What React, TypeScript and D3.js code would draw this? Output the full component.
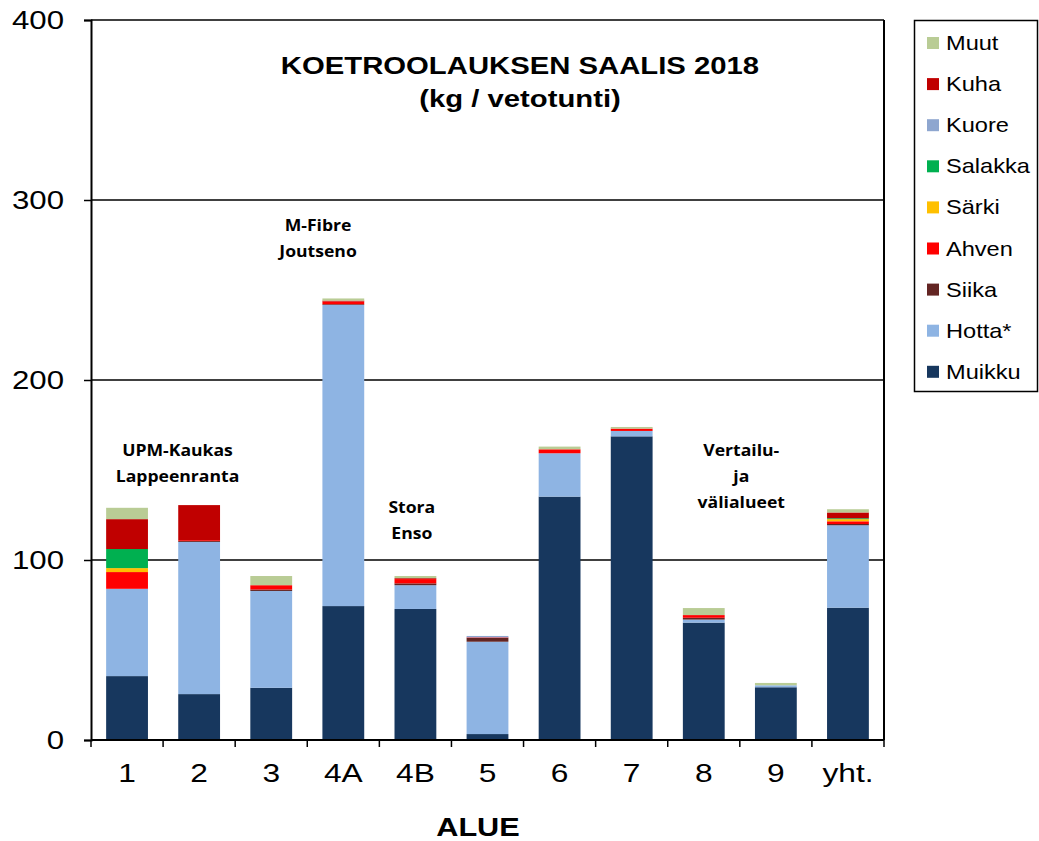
import React from "react";
import * as d3 from "d3";

// alueet
const categories = ["1", "2", "3", "4A", "4B", "5", "6", "7", "8", "9", "yht."];

// lajit alhaalta ylös pinottuna
const species = ["Muikku", "Hotta*", "Siika", "Ahven", "Särki", "Salakka", "Kuore", "Kuha", "Muut"];
const speciesColors = ["#17375E", "#8EB4E3", "#632523", "#FF0000", "#FFC000", "#00B050", "#8EA6CF", "#C00000", "#B9CC95"];

// kg / vetotunti
const muikku = [35.5, 25.5, 29.0, 74.4, 72.8, 3.3, 135.2, 168.7, 65.2, 29.3, 73.5];
const hotta = [48.5, 84.5, 53.8, 167.3, 13.2, 51.3, 24.1, 3.0, 1.7, 1.1, 45.8];
const siika = [0, 0.5, 0.8, 0.4, 1.0, 2.1, 0, 0, 1.0, 0, 0.7];
const ahven = [9.3, 0.5, 2.4, 1.5, 2.4, 0.3, 2.2, 1.3, 1.5, 0, 1.5];
const sarki = [2.2, 0, 0, 0, 0, 0, 0, 0, 0, 0, 1.2];
const salakka = [10.6, 0, 0, 0, 0, 0, 0, 0, 0, 0, 0.5];
const kuore = [0, 0, 0, 0, 0, 0.8, 0, 0, 0, 0, 0];
const kuha = [16.6, 19.5, 0, 0.5, 0.5, 0, 0, 0, 0, 0, 3.2];
const muut = [6.3, 0, 5.1, 1.2, 1.2, 0, 1.5, 0.9, 3.9, 1.3, 1.8];

const yTicks = [0, 100, 200, 300, 400];

const title = ["KOETROOLAUKSEN SAALIS 2018", "(kg / vetotunti)"];

// tekstit alueiden yläpuolella (shift = siirto kaistan leveyksinä)
const notes = [
    { at: "1", shift: 0.7, lines: ["UPM-Kaukas", "Lappeenranta"], value: 158 },
    { at: "4A", shift: -0.35, lines: ["M-Fibre", "Joutseno"], value: 283 },
    { at: "4B", shift: -0.05, lines: ["Stora", "Enso"], value: 126 },
    { at: "8", shift: 0.52, lines: ["Vertailu-", "ja", "välialueet"], value: 158 },
];

// Excel-kuvan tekstit ovat hieman leveämpiä
const stretch = (sel: any, sx: number) => {
    sel.each(function (this: SVGTextElement) {
        const x = +(this.getAttribute("x") || 0);
        d3.select(this).attr("transform", `translate(${x},0) scale(${sx},1) translate(${-x},0)`);
    });
};

const App = () => {
    const svgRef = React.useRef<SVGSVGElement>(null);
    const width = 1039;
    const height = 841;
    const margin = { left: 91, right: 155, top: 20, bottom: 101 };

    React.useEffect(() => {
        const series = [muikku, hotta, siika, ahven, sarki, salakka, kuore, kuha, muut];
        const table = categories.map((c, i) => {
            const row: any = { alue: c };
            species.forEach((s, j) => (row[s] = series[j][i]));
            return row;
        });
        const stacked = d3.stack().keys(species)(table);

        const xScale = d3
            .scaleBand()
            .domain(categories)
            .range([margin.left, width - margin.right])
            .paddingInner(0.42)
            .paddingOuter(0.21);
        const yScale = d3
            .scaleLinear()
            .domain([0, 400])
            .range([height - margin.bottom, margin.top]);

        const svg = d3.select(svgRef.current);
        svg.selectAll("*").remove();

        const font = "Arial, 'Liberation Sans', sans-serif";

        // vaakaviivat
        svg.append("g")
            .selectAll("line")
            .data(yTicks.slice(1))
            .enter()
            .append("line")
            .attr("x1", margin.left)
            .attr("x2", width - margin.right)
            .attr("y1", (d) => yScale(d))
            .attr("y2", (d) => yScale(d))
            .attr("stroke", "#000")
            .attr("stroke-width", 1.5);

        // pylväät
        svg.append("g")
            .selectAll("g")
            .data(stacked)
            .enter()
            .append("g")
            .attr("fill", (d, i) => speciesColors[i])
            .selectAll("rect")
            .data((d) => d)
            .enter()
            .append("rect")
            .attr("x", (d: any) => xScale(d.data.alue)!)
            .attr("width", xScale.bandwidth())
            .attr("y", (d) => yScale(d[1]))
            .attr("height", (d) => Math.max(0, yScale(d[0]) - yScale(d[1])));

        // akselit
        const yAxis = d3.axisLeft(yScale).tickValues(yTicks).tickSize(7).tickPadding(20);
        const yAxisGroup = svg.append("g").attr("transform", `translate(${margin.left},0)`).call(yAxis);
        yAxisGroup.select(".domain").attr("stroke-width", 2);
        yAxisGroup.selectAll("line").attr("stroke-width", 1.5);
        yAxisGroup.selectAll("text").attr("font-size", 26).attr("font-family", font).attr("fill", "#000");
        stretch(yAxisGroup.selectAll("text"), 1.2);

        // oikea reuna
        svg.append("line")
            .attr("x1", width - margin.right)
            .attr("x2", width - margin.right)
            .attr("y1", margin.top)
            .attr("y2", height - margin.bottom)
            .attr("stroke", "#000")
            .attr("stroke-width", 2);

        const xAxis = d3.axisBottom(xScale).tickSize(0).tickPadding(24);
        const xAxisGroup = svg
            .append("g")
            .attr("transform", `translate(0,${height - margin.bottom})`)
            .call(xAxis);
        xAxisGroup.select(".domain").attr("stroke-width", 2).attr("d", `M${margin.left},0H${width - margin.right}`);
        xAxisGroup.selectAll("text").attr("font-size", 26).attr("font-family", font).attr("fill", "#000");
        stretch(xAxisGroup.selectAll("text"), 1.22);
        // väliviivat alueiden välissä
        const step = xScale.step();
        xAxisGroup
            .selectAll(".sep")
            .data(d3.range(categories.length + 1))
            .enter()
            .append("line")
            .attr("x1", (i) => margin.left + i * step)
            .attr("x2", (i) => margin.left + i * step)
            .attr("y1", 0)
            .attr("y2", 7)
            .attr("stroke", "#000")
            .attr("stroke-width", 1.5);

        const alue = svg.append("text")
            .attr("x", 478)
            .attr("y", 836)
            .attr("text-anchor", "middle")
            .attr("font-family", font)
            .attr("font-weight", "bold")
            .attr("font-size", 26)
            .text("ALUE");
        stretch(alue, 1.18);

        // otsikko
        const titleTexts = svg.append("g")
            .selectAll("text")
            .data(title)
            .enter()
            .append("text")
            .attr("x", 520)
            .attr("y", (d, i) => 74 + i * 33)
            .attr("text-anchor", "middle")
            .attr("font-family", font)
            .attr("font-weight", "bold")
            .attr("font-size", 24)
            .text((d) => d);
        stretch(titleTexts, 1.22);

        // alueiden nimet
        notes.forEach((n) => {
            const cx = xScale(n.at)! + xScale.bandwidth() / 2 + n.shift * step;
            const t = svg.append("g")
                .selectAll("text")
                .data(n.lines)
                .enter()
                .append("text")
                .attr("x", cx)
                .attr("y", (d, i) => yScale(n.value) + i * 26)
                .attr("text-anchor", "middle")
                .attr("font-family", "'Open Sans', Calibri, sans-serif")
                .attr("font-weight", "bold")
                .attr("font-size", 16)
                .text((d) => d);
            stretch(t, 1.1);
        });

        // selite
        const legend = svg.append("g");
        legend.append("rect")
            .attr("x", 914.5)
            .attr("y", 20.5)
            .attr("width", 123)
            .attr("height", 371)
            .attr("fill", "#fff")
            .attr("stroke", "#000")
            .attr("stroke-width", 1.5);
        const order = species.slice().reverse();
        const items = legend
            .selectAll("g.item")
            .data(order)
            .enter()
            .append("g")
            .attr("transform", (d, i) => `translate(927,${43 + i * 41.1})`);
        items.append("rect")
            .attr("x", 0)
            .attr("y", -6)
            .attr("width", 12)
            .attr("height", 12)
            .attr("fill", (d) => speciesColors[species.indexOf(d)]);
        const legendTexts = items.append("text")
            .attr("x", 19)
            .attr("y", 7)
            .attr("font-family", font)
            .attr("font-size", 20)
            .text((d) => d);
        stretch(legendTexts, 1.18);
    }, []);

    return (
        <svg
            ref={svgRef}
            width={width}
            height={height}
            style={{ position: "absolute", left: 0, top: 0, background: "#fff" }}
        />
    );
};

export default App;
